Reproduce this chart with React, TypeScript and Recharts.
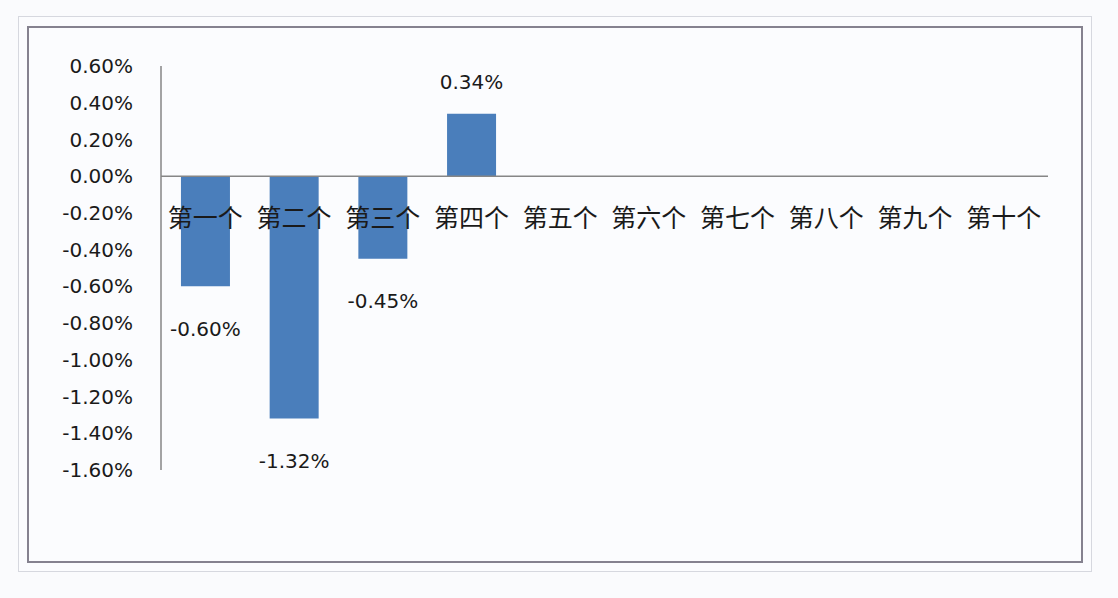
import React from 'react';
import {
  BarChart,
  Bar,
  XAxis,
  YAxis,
  ReferenceLine,
  ReferenceDot,
  LabelList,
} from 'recharts';

// category names along the zero line
const categories = ['第一个', '第二个', '第三个', '第四个', '第五个', '第六个', '第七个', '第八个', '第九个', '第十个'];
// values in percent, only the first four have data
const values: (number | null)[] = [-0.6, -1.32, -0.45, 0.34, null, null, null, null, null, null];
// y axis ticks (percent)
const yTicks = [0.6, 0.4, 0.2, 0, -0.2, -0.4, -0.6, -0.8, -1.0, -1.2, -1.4, -1.6];

const chartData = categories.map((name, i) => ({
  name,
  value: values[i],
}));

const numFont = '"DejaVu Sans", Verdana, sans-serif';
const cjkFont = '"Noto Sans CJK SC", "Noto Sans", sans-serif';
const textColor = '#1a1a1a';

const fmt = (v: number) => `${v.toFixed(2)}%`;

// value label outside the bar end, above for positive, below for negative
const renderValueLabel = (props: any) => {
  const { x, y, width, height, value } = props;
  if (value === null || value === undefined) return null;
  const cx = x + width / 2;
  if (value >= 0) {
    return (
      <text x={cx} y={y - 25} textAnchor="middle" fill={textColor} fontSize={20} fontFamily={numFont}>
        {fmt(value)}
      </text>
    );
  }
  const bottom = height < 0 ? y : y + height;
  return (
    <text x={cx} y={bottom + 35} dy="0.73em" textAnchor="middle" fill={textColor} fontSize={20} fontFamily={numFont}>
      {fmt(value)}
    </text>
  );
};

const App: React.FC = () => {
  return (
    <div
      style={{
        position: 'absolute',
        left: 0,
        top: 0,
        width: 1118,
        height: 598,
        background: '#fafbfd',
        overflow: 'hidden',
      }}
    >
      <div
        style={{
          position: 'absolute',
          left: 18,
          top: 16,
          width: 1074,
          height: 556,
          border: '1px solid #d6d8df',
          boxSizing: 'border-box',
          background: '#fbfcfe',
        }}
      />
      <div
        style={{
          position: 'absolute',
          left: 27,
          top: 26,
          width: 1056,
          height: 537,
          border: '2px solid #85828f',
          boxSizing: 'border-box',
          background: '#fbfcfe',
        }}
      />
      <div style={{ position: 'absolute', left: 0, top: 0 }}>
        <BarChart
          width={1118}
          height={598}
          data={chartData}
          margin={{ top: 66, right: 70, bottom: 128, left: 61 }}
          barCategoryGap="22.5%"
        >
          <XAxis dataKey="name" hide />
          <YAxis
            type="number"
            width={100}
            domain={[-1.6, 0.6]}
            ticks={yTicks}
            interval={0}
            tickFormatter={fmt}
            tickLine={false}
            tickSize={0}
            tickMargin={28}
            axisLine={{ stroke: '#868686', strokeWidth: 1.5 }}
            tick={{ fill: textColor, fontSize: 20, fontFamily: numFont }}
          />
          <ReferenceLine y={0} stroke="#868686" strokeWidth={1.5} />
          <Bar dataKey="value" fill="#4a7ebb" isAnimationActive={false}>
            <LabelList dataKey="value" content={renderValueLabel} />
          </Bar>
          {categories.map((name) => (
            <ReferenceDot
              key={name}
              x={name}
              y={0}
              r={0}
              fill="none"
              stroke="none"
              label={{
                value: name,
                position: 'bottom',
                offset: 33,
                fill: textColor,
                fontSize: 25,
                fontFamily: cjkFont,
              }}
            />
          ))}
        </BarChart>
      </div>
    </div>
  );
};

export default App;
